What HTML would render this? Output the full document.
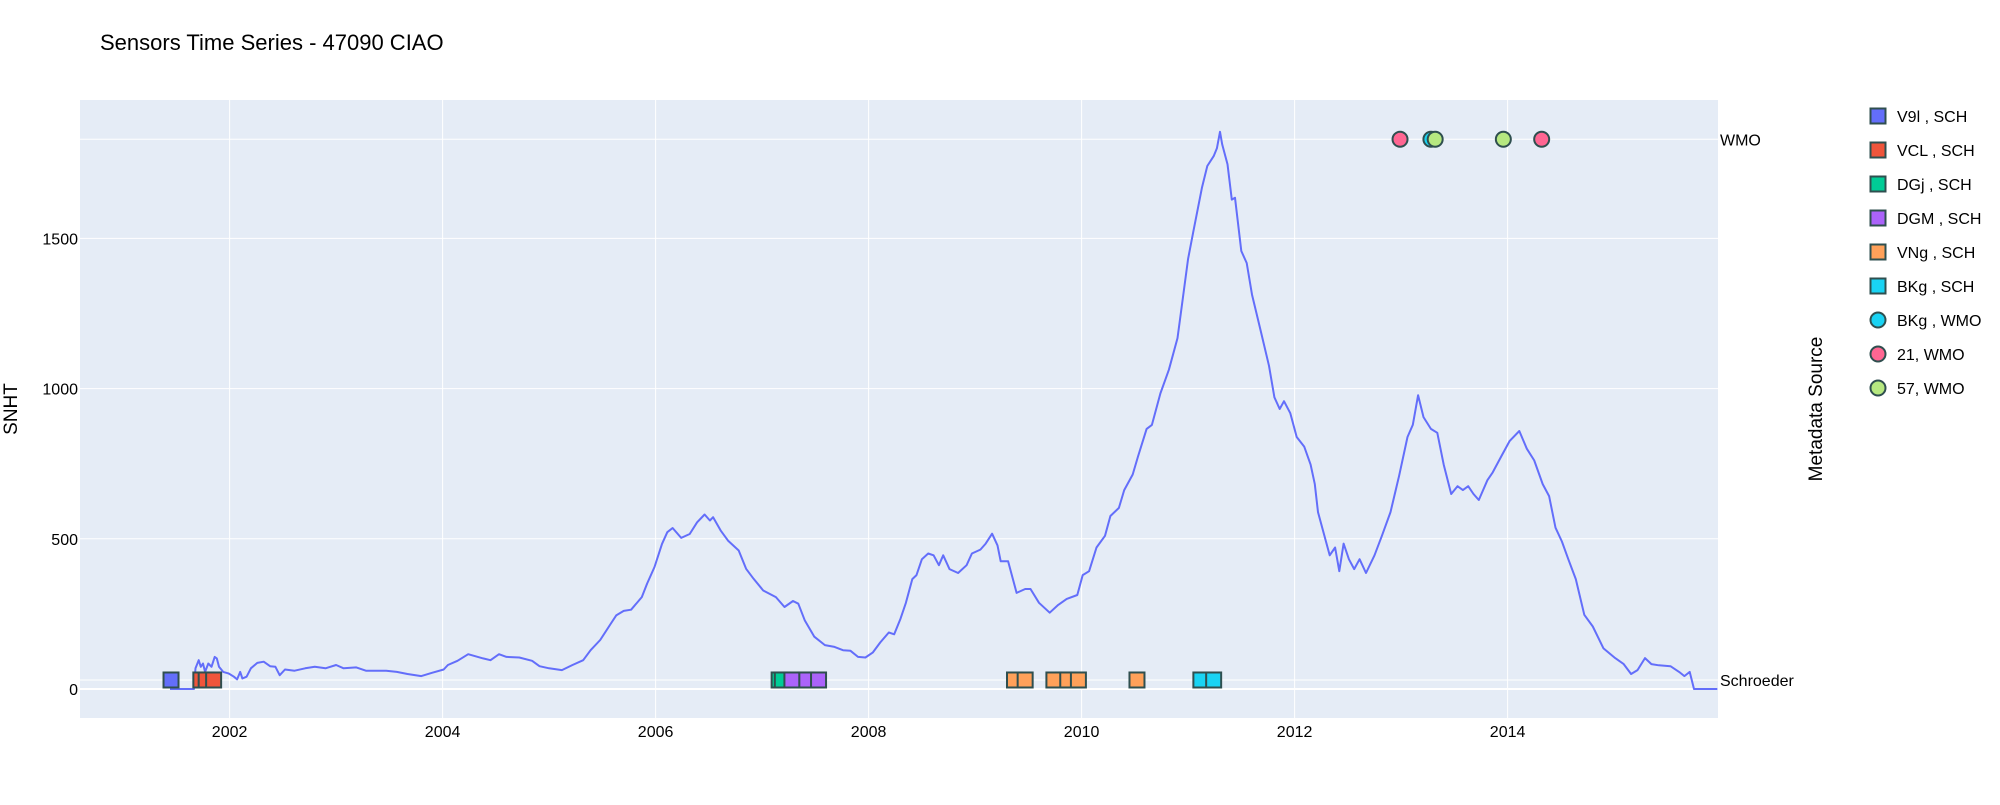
<!DOCTYPE html>
<html><head><meta charset="utf-8"><style>
body{margin:0;background:#fff;}
svg text{font-family:"Liberation Sans",Arial,sans-serif;fill:#2a3f5f;}
</style></head><body>
<svg id="chart" width="2000" height="800" xmlns="http://www.w3.org/2000/svg">
<rect x="0" y="0" width="2000" height="800" fill="#fff"/>
<text x="100" y="50" font-size="22" style="fill:#000">Sensors Time Series - 47090 CIAO</text>
<rect x="80" y="100" width="1638" height="618" fill="#e5ecf6"/>
<g id="grid"></g>
<g id="series"></g>
<g id="markers"></g>
<g id="axes"></g>
<text transform="translate(17,409) rotate(-90)" text-anchor="middle" font-size="19" style="fill:#000">SNHT</text>
<text transform="translate(1822,409) rotate(-90)" text-anchor="middle" font-size="19" style="fill:#000">Metadata Source</text>
<g id="legend"></g>
</svg>
<script>
const years=[2001.44,2001.665,2001.68,2001.71,2001.73,2001.75,2001.77,2001.80,2001.83,2001.86,2001.88,2001.90,2001.94,2001.99,2002.04,2002.07,2002.10,2002.12,2002.16,2002.20,2002.26,2002.32,2002.38,2002.43,2002.47,2002.52,2002.61,2002.71,2002.80,2002.90,2003.00,2003.07,2003.19,2003.28,2003.47,2003.57,2003.67,2003.80,2003.90,2004.01,2004.05,2004.14,2004.24,2004.38,2004.45,2004.53,2004.60,2004.72,2004.84,2004.91,2005.00,2005.12,2005.22,2005.32,2005.39,2005.48,2005.58,2005.63,2005.70,2005.77,2005.87,2005.92,2005.99,2006.06,2006.11,2006.16,2006.24,2006.32,2006.39,2006.46,2006.51,2006.54,2006.61,2006.68,2006.78,2006.85,2006.92,2007.01,2007.13,2007.21,2007.29,2007.34,2007.40,2007.49,2007.59,2007.68,2007.76,2007.83,2007.90,2007.97,
2008.04,2008.11,2008.19,2008.24,2008.30,2008.35,2008.41,2008.45,2008.50,2008.56,2008.61,2008.66,2008.70,2008.76,2008.84,2008.92,2008.97,2009.05,2009.10,2009.16,2009.21,2009.24,2009.31,2009.39,2009.47,2009.52,2009.60,2009.70,2009.78,2009.86,2009.96,2010.01,2010.07,2010.14,2010.22,2010.27,2010.35,2010.40,2010.48,2010.53,2010.61,2010.66,2010.74,2010.82,2010.90,2010.95,2011.00,2011.05,2011.13,2011.18,2011.24,2011.27,2011.30,2011.32,2011.37,2011.41,2011.44,2011.50,2011.55,2011.60,2011.68,2011.76,2011.81,2011.86,2011.90,2011.96,2012.02,2012.09,2012.15,2012.19,2012.22,2012.28,2012.33,2012.38,2012.42,2012.46,2012.51,2012.56,2012.61,2012.67,2012.75,2012.82,2012.90,2012.98,2013.06,2013.11,2013.16,2013.21,2013.28,2013.34,2013.40,2013.47,2013.53,2013.58,2013.63,2013.68,2013.73,2013.81,2013.86,2013.94,2014.02,2014.11,2014.18,2014.25,2014.33,2014.39,2014.45,2014.51,2014.57,2014.64,2014.72,2014.80,2014.90,2015.01,2015.09,2015.16,2015.22,2015.29,2015.35,2015.42,2015.53,2015.61,2015.66,2015.71,2015.75,2015.97];
const snht=[0,0,69,96,74,85,57,85,74,107,102,74,57,52,41,32,57,35,41,69,87,91,76,74,46,65,61,69,74,69,80,69,72,61,61,57,50,43,54,65,80,94,116,102,96,116,107,105,94,76,69,63,80,96,129,163,218,245,260,264,306,351,406,483,522,536,503,516,555,581,561,572,528,494,461,400,367,328,306,273,293,284,229,174,146,140,129,127,107,105,
122,155,188,182,234,287,366,379,432,451,445,412,445,399,386,412,451,464,484,517,478,425,425,320,333,333,287,254,280,300,313,379,392,471,510,576,603,662,714,774,866,879,984,1063,1168,1300,1432,1524,1668,1741,1774,1800,1855,1813,1747,1629,1635,1458,1418,1313,1195,1076,971,932,958,918,839,807,747,682,589,510,445,471,392,484,432,399,432,386,445,510,589,708,839,879,978,905,866,853,747,649,675,662,675,649,629,695,721,774,826,859,800,761,682,642,537,491,432,366,247,208,135,103,83,50,63,103,83,79,76,57,43,57,0,0];
const yTicks=[0,500,1000,1500];
const xTicks=[2002,2004,2006,2008,2010,2012,2014];
const markerNames=["V9l , SCH","VCL , SCH","DGj , SCH","DGM , SCH","VNg , SCH","BKg , SCH","BKg , WMO","21, WMO","57, WMO"];
const markerColors=["#636efa","#EF553B","#00cc96","#ab63fa","#FFA15A","#19d3f3","#19d3f3","#FF6692","#B6E880"];
const markerSource=["Schroeder","Schroeder","Schroeder","Schroeder","Schroeder","Schroeder","WMO","WMO","WMO"];
const markerYears=[[2001.45],[2001.73,2001.78,2001.85],[2007.16,2007.19,2007.41],[2007.28,2007.42,2007.53,2009.83],[2009.37,2009.47,2009.74,2009.87,2009.97,2010.52],[2011.12,2011.24],[2013.28],[2012.99,2014.32],[2013.32,2013.96]];
const sourceLevels={"Schroeder":30,"WMO":1830};

const NS="http://www.w3.org/2000/svg";
const X0=80,X1=1718,Y0=100,Y1=718;
function xs(y){return 229.6+(y-2002)*106.5;}
function ys(v){return 689-v*150.2/500;}
function mk(t,a,p){const e=document.createElementNS(NS,t);for(const k in a)e.setAttribute(k,a[k]);p.appendChild(e);return e;}
const grid=document.getElementById('grid'),axes=document.getElementById('axes');
yTicks.forEach(v=>{
  const l=mk('line',{x1:X0,x2:X1,y1:ys(v),y2:ys(v),stroke:'#fff','stroke-width':v===0?2:1},grid);
  
  
  const t=mk('text',{x:78,y:ys(v)+6,'text-anchor':'end','font-size':16,style:'fill:#000'},axes);
  t.textContent=v;
  
  
});
Object.keys(sourceLevels).forEach(s=>{
  const v=sourceLevels[s];
  const l=mk('line',{x1:X0,x2:X1,y1:ys(v),y2:ys(v),stroke:'#fff','stroke-width':1},grid);
  
  
  const t=mk('text',{x:1720,y:ys(v)+6,'font-size':16,style:'fill:#000'},axes);
  t.textContent=s;
  
  
});
xTicks.forEach(y=>{
  const l=mk('line',{x1:xs(y),x2:xs(y),y1:Y0,y2:Y1,stroke:'#fff','stroke-width':1},grid);
  
  
  const t=mk('text',{x:xs(y),y:737,'text-anchor':'middle','font-size':16,style:'fill:#000'},axes);
  t.textContent=y;
  
  
});
let d='';years.forEach((y,i)=>{d+=(i?'L':'M')+xs(y).toFixed(1)+','+ys(snht[i]).toFixed(1);});
const p=mk('path',{d:d,fill:'none',stroke:'#636efa','stroke-width':2,'stroke-linejoin':'round'},document.getElementById('series'));


const mg=document.getElementById('markers');
function drawMarker(i,cx,cy,parent){
  let e;
  if(markerSource[i]==='WMO'){e=mk('circle',{cx:cx,cy:cy,r:7.5,fill:markerColors[i],stroke:'#2f4f4f','stroke-width':2},parent);}
  else{e=mk('rect',{x:cx-7.5,y:cy-7.5,width:15,height:15,fill:markerColors[i],stroke:'#2f4f4f','stroke-width':2},parent);}
  return e;
}
markerYears.forEach((arr,i)=>{arr.forEach(y=>{
  const e=drawMarker(i,xs(y),ys(sourceLevels[markerSource[i]]),mg);
  
  
});});
const lg=document.getElementById('legend');
markerNames.forEach((n,i)=>{
  const cy=116+i*34;
  const g=mk('g',{},lg);
  
  
  drawMarker(i,1878,cy,g);
  const t=mk('text',{x:1897,y:cy+6,'font-size':16,style:'fill:#000'},g);
  t.textContent=n;
});
</script>
</body></html>
